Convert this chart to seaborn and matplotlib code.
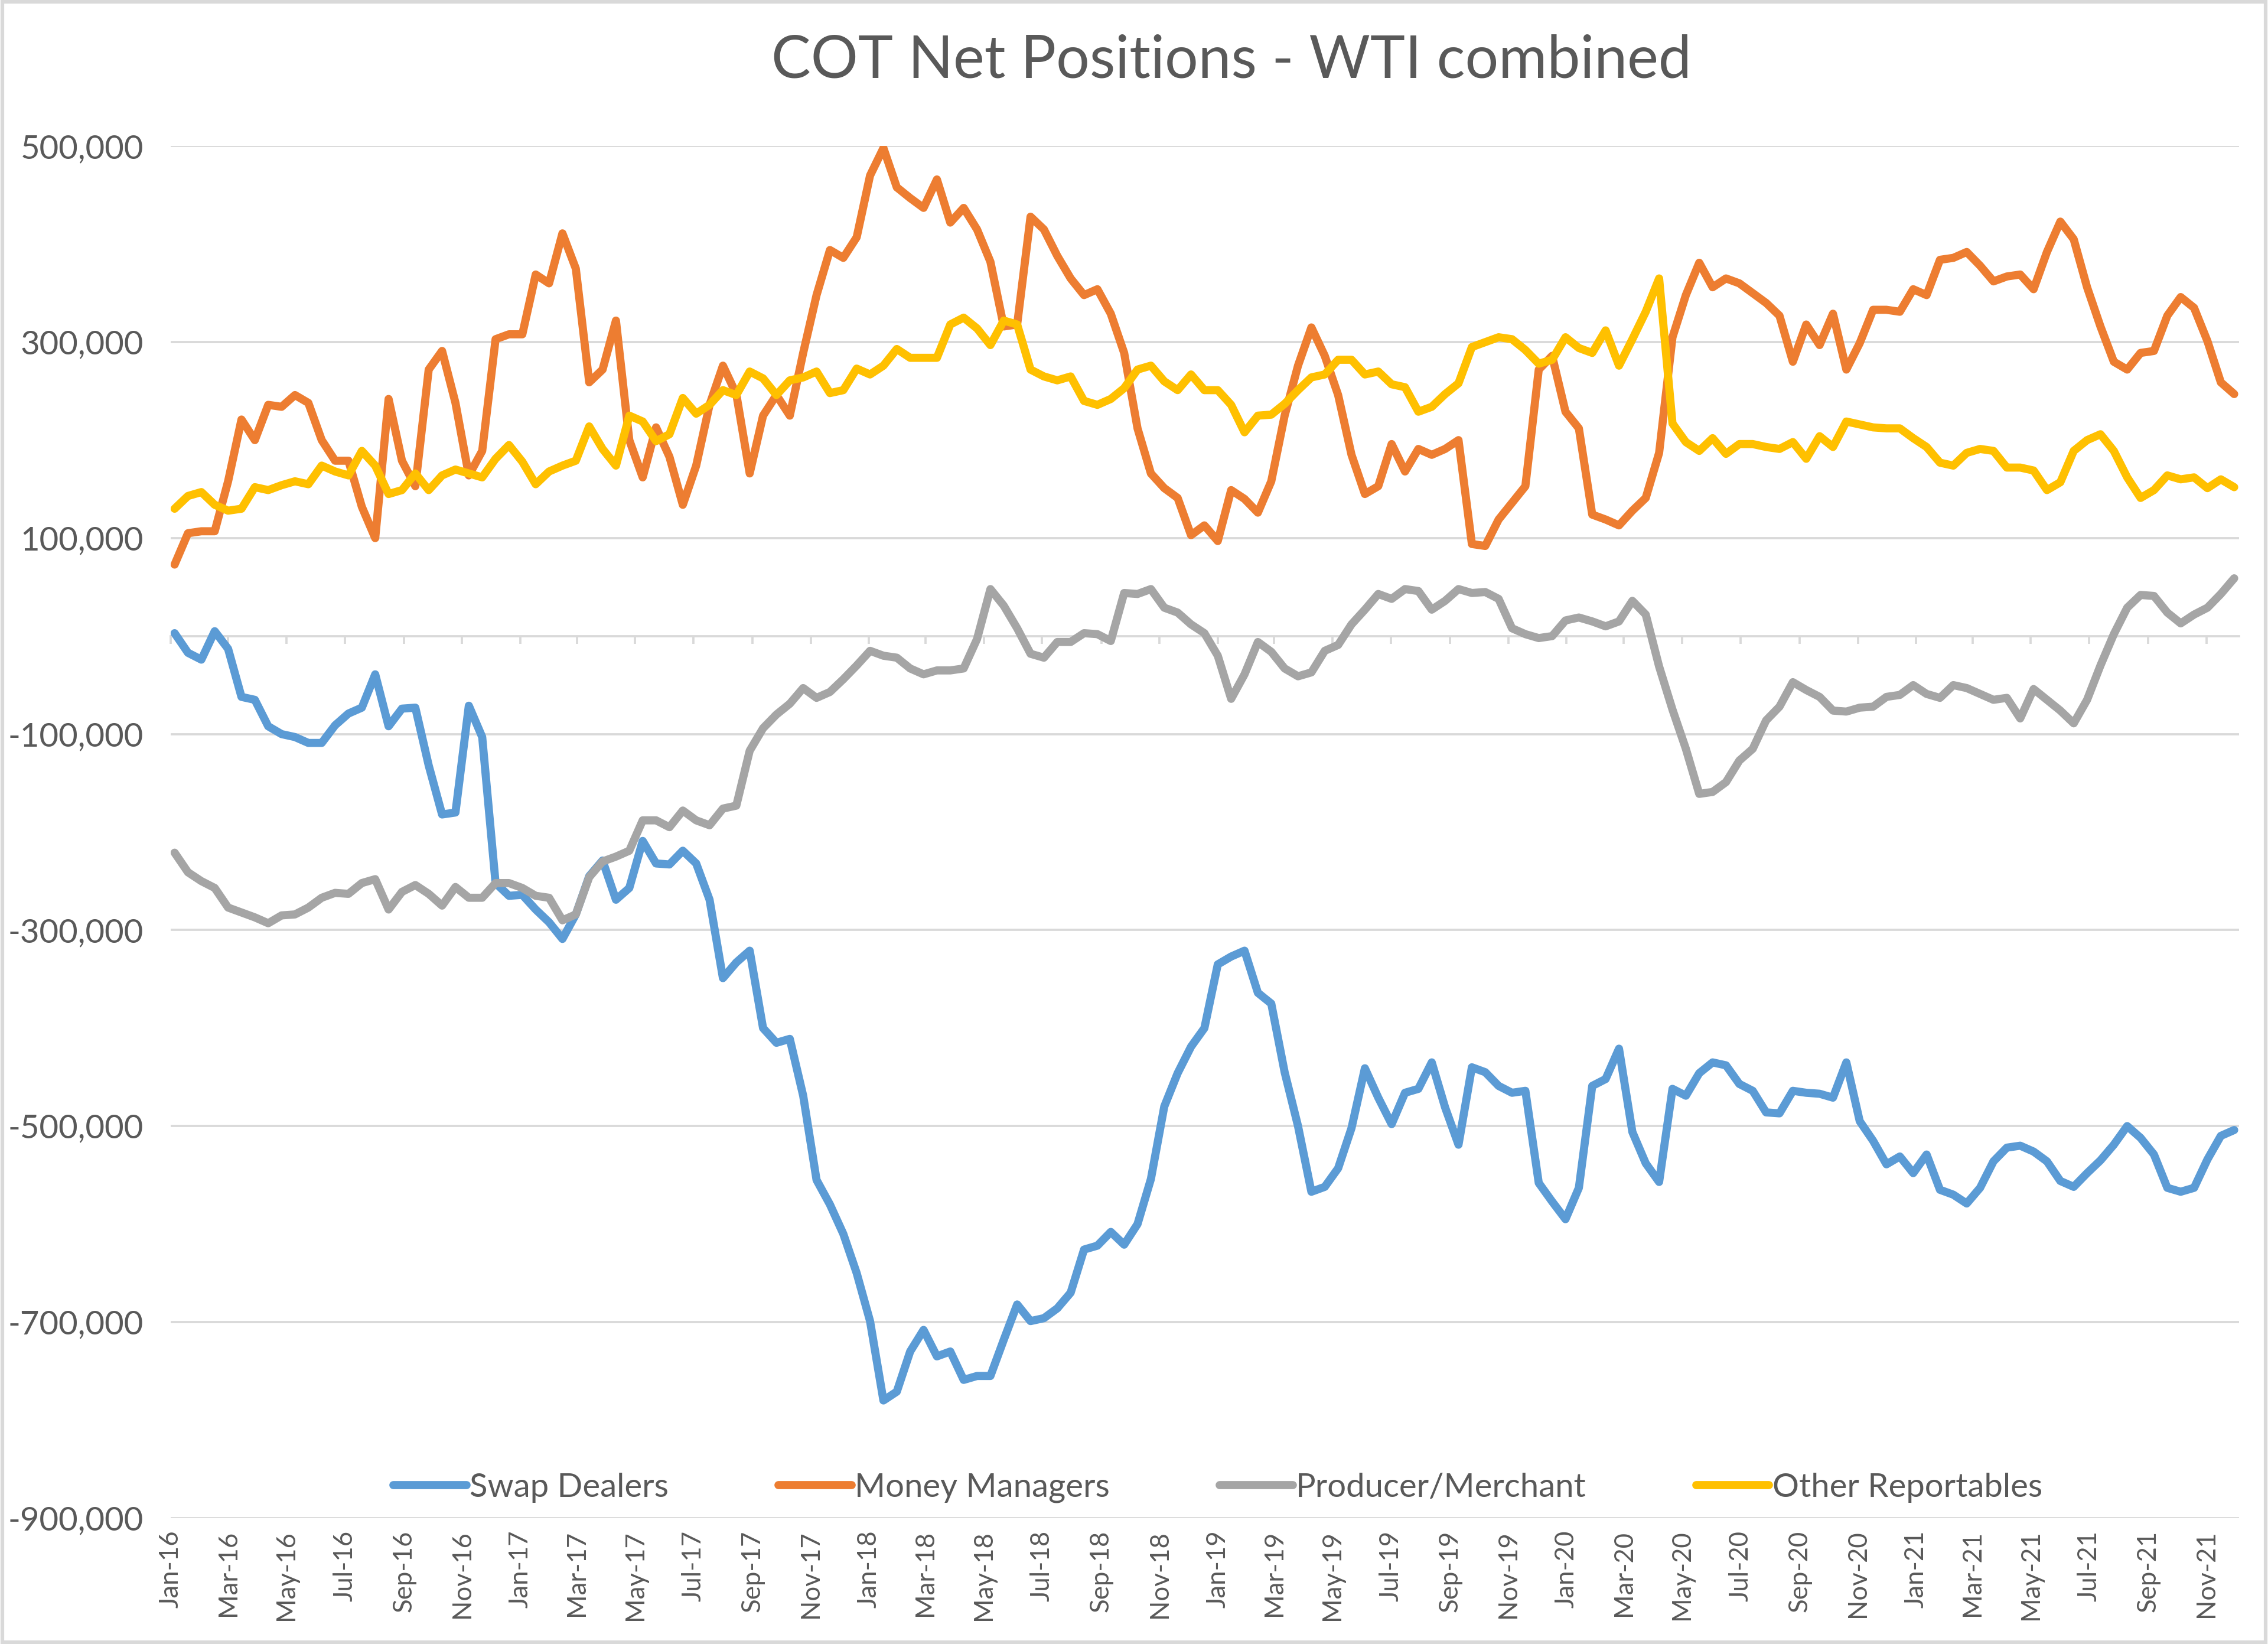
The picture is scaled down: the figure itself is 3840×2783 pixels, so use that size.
import numpy as np
import pandas as pd
import seaborn as sns
import matplotlib.pyplot as plt
import matplotlib.dates as mdates
from matplotlib.lines import Line2D
from matplotlib.patches import Rectangle
from matplotlib.ticker import FuncFormatter


# fortnightly report dates, values in thousands of contracts
dates = pd.date_range("2016-01-05", periods=155, freq="14D")

swap_dealers = [
    3, -17, -24, 5, -13, -62, -65, -92, -100, -103, -109, -109, -91, -79, -73, -39, -92, -74, -73, -132, -182, -180, -71, -103, -252, -265,
    -264, -279, -292, -309, -284, -245, -229, -269, -257, -209, -232, -233, -219, -232, -269, -349, -333, -321, -400, -415, -411, -469, -555, -580, -610, -650,
    -699, -780, -771, -730, -708, -735, -730, -759, -755, -755, -718, -682, -699, -696, -686, -670, -626, -622, -608, -621, -600, -554, -480, -446, -419, -400,
    -335, -327, -321, -364, -375, -445, -500, -567, -562, -543, -502, -441, -471, -498, -466, -462, -435, -481, -519, -440, -445, -459, -466, -464, -558, -577,
    -595, -563, -459, -452, -421, -506, -538, -557, -462, -469, -446, -435, -438, -457, -464, -486, -487, -464, -466, -467, -471, -435, -495, -515, -539, -531,
    -548, -529, -565, -570, -579, -563, -536, -522, -520, -526, -536, -556, -562, -548, -535, -519, -500, -512, -529, -563, -567, -563, -534, -510, -504,
]

money_managers = [
    73, 105, 107, 107, 158, 221, 200, 236, 234, 246, 238, 200, 179, 179, 132, 100, 242, 179, 153, 272, 291, 238, 164, 189, 303, 308,
    308, 369, 360, 411, 375, 259, 272, 322, 200, 162, 213, 183, 134, 174, 236, 276, 247, 166, 225, 246, 225, 289, 348, 394, 386, 407,
    470, 498, 458, 447, 437, 466, 422, 437, 415, 382, 316, 318, 428, 415, 388, 365, 348, 354, 329, 289, 212, 166, 151, 141, 103, 113,
    97, 149, 140, 126, 158, 225, 276, 315, 286, 246, 185, 145, 153, 196, 168, 191, 185, 191, 200, 94, 92, 119, 136, 153, 272, 286,
    229, 212, 124, 119, 113, 128, 141, 187, 305, 348, 381, 356, 365, 360, 350, 340, 327, 280, 318, 297, 329, 272, 299, 333, 333, 331,
    354, 348, 384, 386, 392, 378, 362, 367, 369, 354, 392, 423, 405, 356, 316, 280, 272, 289, 291, 327, 346, 335, 301, 259, 247,
]

producer_merchant = [
    -221, -241, -250, -257, -277, -282, -287, -293, -285, -284, -277, -267, -262, -263, -252, -248, -279, -261, -254, -263, -275, -256, -267, -267, -252, -252,
    -257, -265, -267, -290, -284, -246, -230, -225, -219, -188, -188, -195, -178, -188, -193, -176, -173, -117, -94, -80, -69, -53, -63, -57, -44, -30,
    -15, -20, -22, -33, -39, -35, -35, -33, -3, 48, 31, 8, -18, -22, -6, -6, 3, 2, -5, 44, 43, 48, 29, 24, 12, 3,
    -20, -64, -39, -6, -16, -33, -41, -37, -15, -9, 12, 27, 43, 38, 48, 46, 27, 36, 48, 44, 45, 38, 8, 2, -2, 0,
    16, 19, 15, 10, 15, 36, 22, -31, -75, -115, -161, -159, -149, -127, -115, -86, -72, -47, -55, -62, -76, -77, -73, -72, -62, -60,
    -50, -59, -63, -50, -53, -59, -65, -63, -84, -54, -65, -76, -89, -65, -30, 2, 29, 42, 41, 24, 13, 22, 29, 43, 59,
]

other_reportables = [
    130, 143, 147, 134, 128, 130, 152, 149, 154, 158, 155, 174, 168, 164, 189, 174, 145, 149, 166, 149, 164, 170, 166, 162, 181, 195,
    178, 155, 168, 174, 179, 214, 191, 174, 225, 219, 199, 206, 243, 227, 236, 251, 246, 270, 263, 246, 261, 264, 270, 248, 251, 273,
    267, 276, 293, 284, 284, 284, 318, 325, 314, 297, 322, 318, 272, 265, 261, 265, 240, 236, 242, 253, 272, 276, 260, 251, 267, 251,
    251, 236, 208, 225, 226, 237, 251, 264, 267, 282, 282, 267, 270, 257, 254, 229, 234, 247, 258, 295, 300, 305, 303, 292, 278, 282,
    305, 294, 289, 312, 276, 303, 331, 365, 217, 198, 189, 202, 186, 196, 196, 193, 191, 198, 181, 204, 193, 219, 216, 213, 212, 212,
    202, 193, 177, 174, 187, 191, 189, 172, 172, 169, 149, 157, 189, 200, 206, 189, 162, 141, 149, 164, 160, 162, 151, 160, 152,
]

series_names = ["Swap Dealers", "Money Managers", "Producer/Merchant", "Other Reportables"]
series_colors = ["#5B9BD5", "#ED7D31", "#A5A5A5", "#FFC000"]
text_color = "#595959"
grid_color = "#D9D9D9"


def build_frame():
    df = pd.DataFrame({
        "date": dates,
        "Swap Dealers": np.array(swap_dealers) * 1000,
        "Money Managers": np.array(money_managers) * 1000,
        "Producer/Merchant": np.array(producer_merchant) * 1000,
        "Other Reportables": np.array(other_reportables) * 1000,
    })
    return df.melt(id_vars="date", var_name="series", value_name="net")


def draw_chart(df):
    sns.set_theme(style="white")
    plt.rcParams["font.family"] = ["Lato", "DejaVu Sans"]

    fig = plt.figure(figsize=(12.8, 9.2767), dpi=300)
    ax = fig.add_axes([0.0753, 0.0766, 0.9119, 0.8345])

    sns.lineplot(data=df, x="date", y="net", hue="series", hue_order=series_names,
                 palette=series_colors, linewidth=3.3, ax=ax, legend=False)

    # y axis
    ax.set_ylim(-900000, 500000)
    ax.set_yticks(np.arange(-900000, 500001, 200000))
    ax.yaxis.set_major_formatter(FuncFormatter(lambda v, p: f"{v:,.0f}"))
    ax.tick_params(axis="y", length=0, pad=11, labelsize=13.5, labelcolor=text_color)
    ax.grid(axis="y", color=grid_color, linewidth=0.9)
    ax.set_axisbelow(True)
    ax.set_xlabel("")
    ax.set_ylabel("")

    # x axis: line and ticks at zero, labels at the bottom
    x_lo, x_hi = mdates.date2num(pd.Timestamp("2016-01-01")), mdates.date2num(pd.Timestamp("2021-12-05"))
    ax.set_xlim(x_lo, x_hi)
    ax.xaxis.set_major_locator(mdates.MonthLocator(bymonth=[1, 3, 5, 7, 9, 11]))
    for side in ["top", "right", "left"]:
        ax.spines[side].set_visible(False)
    ax.spines["bottom"].set_position(("data", 0))
    ax.spines["bottom"].set_color(grid_color)
    ax.spines["bottom"].set_linewidth(0.9)
    ax.spines["bottom"].set_zorder(1)
    ax.tick_params(axis="x", direction="out", length=3, width=0.9, color=grid_color, labelbottom=False)

    ax2 = ax.twiny()
    ax2.set_xlim(x_lo, x_hi)
    ax2.xaxis.set_major_locator(mdates.MonthLocator(bymonth=[1, 3, 5, 7, 9, 11]))
    ax2.xaxis.set_major_formatter(mdates.DateFormatter("%b-%y"))
    ax2.xaxis.set_ticks_position("bottom")
    ax2.xaxis.set_label_position("bottom")
    for side in ax2.spines:
        ax2.spines[side].set_visible(False)
    ax2.tick_params(axis="x", length=0, pad=5, labelsize=10.5, labelcolor=text_color, labelrotation=90)

    # legend
    handles = [Line2D([0], [0], color=c, linewidth=3.3) for c in series_colors]
    fig.legend(handles, series_names, loc="center", bbox_to_anchor=(0.537, 0.095), ncol=4,
               frameon=False, fontsize=13.5, handlelength=2.2, handletextpad=0.1,
               columnspacing=3.3, labelcolor=text_color)

    fig.text(0.543, 0.963, "COT Net Positions - WTI combined", ha="center", va="center",
             fontsize=24, color=text_color)

    fig.patches.append(Rectangle((0.001, 0.001), 0.998, 0.998, transform=fig.transFigure,
                                 fill=False, edgecolor=grid_color, linewidth=1.5))

    fig.savefig("out.png", dpi=300)


if __name__ == "__main__":
    draw_chart(build_frame())
